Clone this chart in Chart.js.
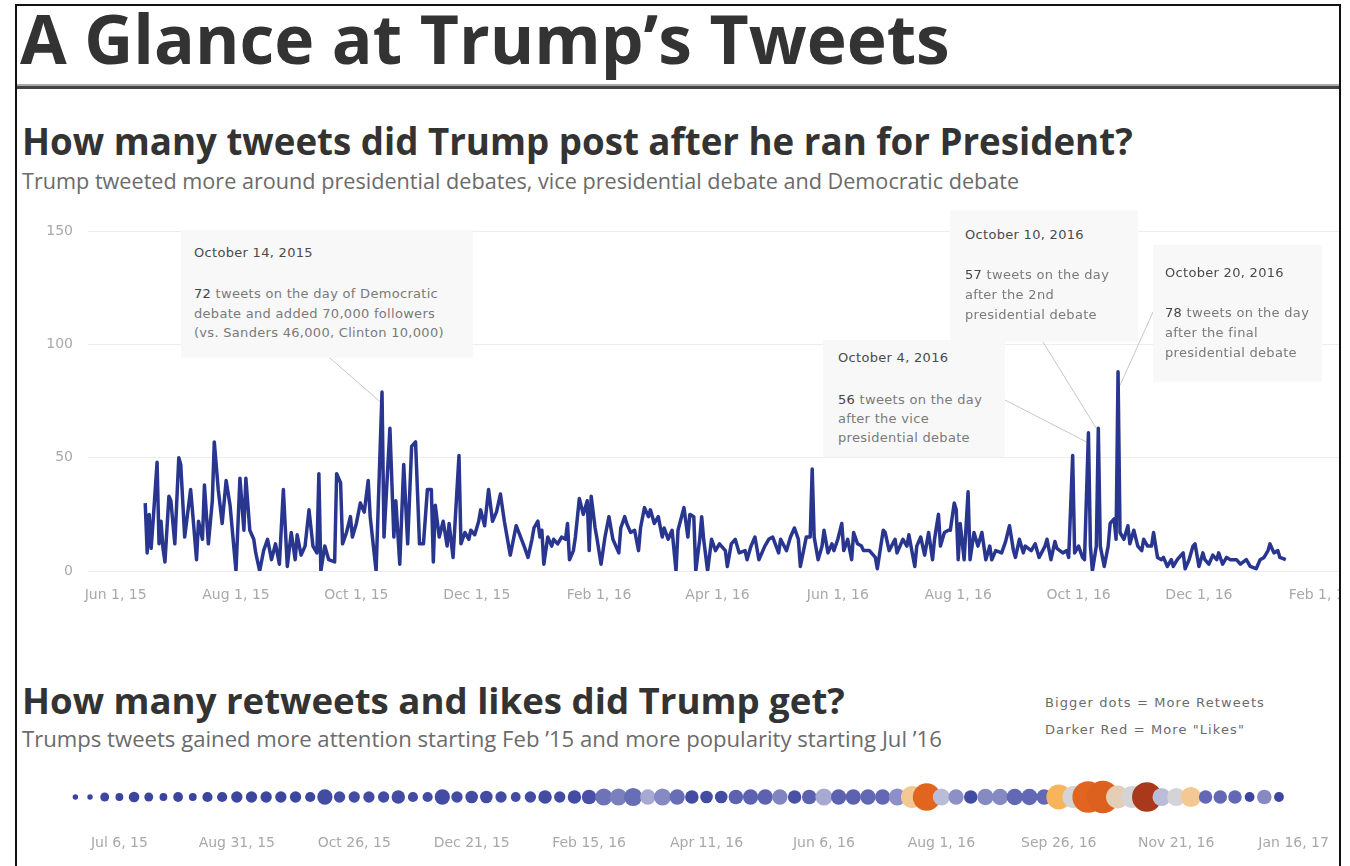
<!DOCTYPE html>
<html>
<head>
<meta charset="utf-8">
<title>A Glance at Trump's Tweets</title>
<script src="https://cdn.jsdelivr.net/npm/chart.js@4.4.1/dist/chart.umd.min.js"></script>
<style>
  body { margin: 0; background: #fff; }
  #page { position: absolute; left: 0; top: 0; width: 1350px; height: 866px; overflow: hidden; background: #fff; }
  #clip { position: absolute; left: 0; top: 0; width: 1350px; height: 866px; clip-path: inset(6px 11px 0 17px); }
  #frame { position: absolute; left: 15px; top: 4px; width: 1322px; height: 900px; border: 2px solid #111; pointer-events: none; }
  .t { position: absolute; white-space: nowrap; }
  .open { font-family: "Open Sans", sans-serif; }
  .deja { font-family: "DejaVu Sans", sans-serif; letter-spacing: 0.3px; }
  .head { font-weight: 700; color: #333; }
  .desc { color: #6b6b6b; }
  .note { position: absolute; background: #f8f8f8; }
  .nt { color: #4a4a4a; }
  .nb { color: #7a7a7a; }
  .nb b { color: #444; font-weight: normal; }
  .wrap { position: absolute; }
</style>
</head>
<body>
<div id="page">
  <div id="clip">
    <div style="position:absolute;left:0;top:84px;width:1350px;height:2px;background:#aaa"></div>
    <div style="position:absolute;left:0;top:86px;width:1350px;height:3px;background:#444"></div>

    <div class="wrap" id="lineWrap" style="left:17px;top:200px;width:1353px;height:415px"><canvas id="lineCanvas"></canvas></div>

    <div class="note" style="left:181px;top:230px;width:292px;height:128px"></div>
    <div class="note" style="left:823px;top:340px;width:182px;height:117px"></div>
    <div class="note" style="left:950px;top:210px;width:188px;height:132px"></div>
    <div class="note" style="left:1153px;top:245px;width:169px;height:137px"></div>

    <div class="t deja nt" data-font="deja" data-x="194" data-cap="248" data-fs="13">October 14, 2015</div>
    <div class="t deja nb" data-font="deja" data-x="194" data-cap="289" data-fs="13"><b>72</b> tweets on the day of Democratic</div>
    <div class="t deja nb" data-font="deja" data-x="194" data-cap="308.5" data-fs="13">debate and added 70,000 followers</div>
    <div class="t deja nb" data-font="deja" data-x="194" data-cap="328" data-fs="13">(vs. Sanders 46,000, Clinton 10,000)</div>

    <div class="t deja nt" data-font="deja" data-x="838" data-cap="353" data-fs="13">October 4, 2016</div>
    <div class="t deja nb" data-font="deja" data-x="838" data-cap="395" data-fs="13"><b>56</b> tweets on the day</div>
    <div class="t deja nb" data-font="deja" data-x="838" data-cap="414" data-fs="13">after the vice</div>
    <div class="t deja nb" data-font="deja" data-x="838" data-cap="433" data-fs="13">presidential debate</div>

    <div class="t deja nt" data-font="deja" data-x="965" data-cap="230" data-fs="13">October 10, 2016</div>
    <div class="t deja nb" data-font="deja" data-x="965" data-cap="270" data-fs="13"><b>57</b> tweets on the day</div>
    <div class="t deja nb" data-font="deja" data-x="965" data-cap="290" data-fs="13">after the 2nd</div>
    <div class="t deja nb" data-font="deja" data-x="965" data-cap="310" data-fs="13">presidential debate</div>

    <div class="t deja nt" data-font="deja" data-x="1165" data-cap="268" data-fs="13">October 20, 2016</div>
    <div class="t deja nb" data-font="deja" data-x="1165" data-cap="308" data-fs="13"><b>78</b> tweets on the day</div>
    <div class="t deja nb" data-font="deja" data-x="1165" data-cap="328" data-fs="13">after the final</div>
    <div class="t deja nb" data-font="deja" data-x="1165" data-cap="348" data-fs="13">presidential debate</div>

    <div class="wrap" id="dotWrap" style="left:17px;top:770px;width:1328px;height:96px"><canvas id="dotCanvas"></canvas></div>

    <div class="t open head" data-x="20" data-base="65" data-fit="930">A Glance at Trump’s Tweets</div>
    <div class="t open head" data-x="22" data-base="156" data-fit="1111">How many tweets did Trump post after he ran for President?</div>
    <div class="t open desc" data-x="22" data-base="189" data-fit="998">Trump tweeted more around presidential debates, vice presidential debate and Democratic debate</div>
    <div class="t open head" data-x="22" data-base="715" data-fit="823">How many retweets and likes did Trump get?</div>
    <div class="t open desc" data-x="22" data-base="747" data-fit="920">Trumps tweets gained more attention starting Feb ’15 and more popularity starting Jul ’16</div>
    <div class="t deja desc" data-font="deja" data-x="1045" data-cap="698" data-fs="13" data-w="220">Bigger dots = More Retweets</div>
    <div class="t deja desc" data-font="deja" data-x="1045" data-cap="725" data-fs="13" data-w="200">Darker Red = More "Likes"</div>
  </div>
  <div id="frame"></div>
</div>

<script>
// daily tweet counts, day = days since Jun 1, 2015
const tweetDays = [
  15,16,17,18,19,21,22,23,24,25,27,28,30,32,33,35,38,39,41,42,44,45,47,49,50,52,54,56,58,61,
  63,65,66,68,70,71,73,75,77,79,81,83,85,87,89,91,92,94,96,98,100,102,103,104,106,108,111,112,114,115,
  117,119,120,122,124,126,128,129,132,135,136,139,141,142,144,146,148,150,152,154,156,158,160,161,162,164,166,168,169,171,
  174,175,177,179,180,182,184,185,187,189,191,193,195,197,200,
  203,207,209,211,212,214,215,216,217,219,221,222,224,226,228,229,230,232,233,235,237,239,240,241,243,244,246,248,250,252,
  255,256,258,259,261,263,265,266,268,270,271,273,275,277,278,280,282,284,285,288,290,291,293,294,296,297,298,300,302,304,
  306,309,310,312,314,316,319,320,322,324,326,329,331,333,336,337,340,342,344,346,347,350,352,353,354,356,358,359,361,363,
  364,366,368,369,371,373,374,376,378,379,382,385,386,389,390,392,395,
  396,399,401,402,405,406,408,410,412,414,415,417,418,420,422,423,425,426,427,428,430,432,433,435,437,439,441,443,444,446,
  449,451,453,455,456,458,460,461,464,466,468,471,472,474,476,477,480,482,483,485,486,488,490,491,493,494,495,497,498,499,
  501,503,504,506,507,508,509,511,513,514,516,518,520,521,523,525,526,528,530,531,533,535,536,538,541,542,544,546,547,549,
  551,552,554,556,558,559,561,563,565,568,570,573,575,578,580,582,584,585,587,589,590,593
];
const tweetCounts = [
  30,8,25,10,22,48,12,22,10,4,33,31,12,50,47,15,36,26,5,22,14,38,12,31,57,36,21,40,29,0,
  41,18,41,18,14,8,0,9,14,5,12,3,36,2,17,5,16,7,11,27,11,8,43,0,11,5,4,43,39,12,
  17,24,15,21,30,26,40,24,0,79,15,63,15,31,3,47,12,55,57,12,12,36,36,4,29,15,22,11,21,6,
  51,12,17,14,18,16,22,27,20,36,22,26,34,22,7,
  20,11,6,14,19,22,15,18,3,15,11,14,12,15,14,21,5,9,15,32,25,31,9,33,19,14,3,15,24,14,
  8,19,24,21,17,18,9,19,28,24,27,21,24,15,19,14,18,0,18,28,15,25,24,0,14,24,14,0,14,9,
  12,9,2,12,14,8,9,5,11,15,5,11,14,15,8,14,9,15,19,14,2,15,15,45,15,5,11,18,8,12,
  9,14,21,9,14,5,17,12,11,9,9,6,1,18,17,9,14,
  8,14,11,16,2,11,15,7,17,5,14,25,11,17,18,18,30,27,5,21,5,35,5,17,11,17,5,11,5,9,
  8,13,20,9,6,14,8,11,9,12,6,11,14,5,13,10,8,9,6,51,8,11,6,5,61,11,0,11,63,11,
  2,11,21,23,14,88,17,14,20,12,18,11,9,14,11,11,17,6,5,6,2,5,2,5,8,1,5,11,12,2,
  8,5,3,7,5,8,3,6,5,5,3,5,2,1,5,6,9,12,8,9,6,5
];
const lineTickDays = [0, 61, 122, 183, 245, 305, 366, 427, 488, 549, 611];
const lineTickLabels = ['Jun 1, 15', 'Aug 1, 15', 'Oct 1, 15', 'Dec 1, 15', 'Feb 1, 16', 'Apr 1, 16',
                        'Jun 1, 16', 'Aug 1, 16', 'Oct 1, 16', 'Dec 1, 16', 'Feb 1, 17'];

// annotated days and where their callout lines leave the boxes (page px)
const noteLinks = [
  { day: 135, value: 74, fromX: 323, fromY: 352 },
  { day: 492, value: 57, fromX: 1005, fromY: 400 },
  { day: 497, value: 63, fromX: 1043, fromY: 342 },
  { day: 508.5, value: 81, fromX: 1153, fromY: 312 }
];

// weekly averages, weeks starting Mon Jun 15, 2015 (thousands per tweet)
const weeklyRetweets = [
  0.1,0.1,0.6,0.4,1.0,0.6,0.4,0.8,0.4,0.9,0.9,1.2,1.2,1.2,1.2,1.2,0.9,2.6,1.2,1.2,
  1.2,1.2,1.9,0.9,0.9,2.6,1.2,1.6,1.6,1.2,0.8,1.2,1.9,1.2,1.9,2.3,3.5,3.5,4.0,2.6,
  3.5,2.6,1.9,1.6,1.6,2.3,2.6,2.6,2.6,1.9,2.3,3.5,2.6,2.6,2.6,2.6,3.5,6.3,10.6,3.5,
  2.6,1.9,3.1,3.1,3.1,3.1,2.6,8.3,6.3,14.1,15.0,6.9,6.3,12.3,4.0,4.0,5.1,1.9,1.9,1.9,
  0.8,2.3,0.8
];
const weeklyLikes = [
  5,5,6,5,6,6,5,6,5,6,6,6,6,6,6,6,6,7,7,7,
  7,7,7,7,7,7,7,7,7,7,7,7,7,7,7,8,14,16,13,21,
  18,13,7,7,7,11,11,11,17,8,11,21,11,11,12,12,19,30,41,23,
  19,7,18,18,12,12,12,34,26,41,42,28,26,50,23,26,30,12,12,12,
  6,18,6
];
const dotTickWeeks = [3, 11, 19, 27, 35, 43, 51, 59, 67, 75, 83];
const dotTickLabels = ['Jul 6, 15', 'Aug 31, 15', 'Oct 26, 15', 'Dec 21, 15', 'Feb 15, 16', 'Apr 11, 16',
                       'Jun 6, 16', 'Aug 1, 16', 'Sep 26, 16', 'Nov 21, 16', 'Jan 16, 17'];

// likes -> colour, blue (few) through grey to dark orange-red (many)
const likeStops = [[0, '#2e3a96'], [0.12, '#3c469f'], [0.24, '#6268b3'], [0.38, '#8c90c6'], [0.44, '#b3b5d8'],
                   [0.52, '#d4d4d6'], [0.6, '#f4c892'], [0.68, '#f7b45a'], [0.82, '#e2651f'], [1, '#a9391a']];
const maxLikes = 50;

function hexRgb(h) {
  return [parseInt(h.substr(1, 2), 16), parseInt(h.substr(3, 2), 16), parseInt(h.substr(5, 2), 16)];
}
function likeColor(v) {
  const t = Math.min(1, Math.max(0, v / maxLikes));
  for (let i = 1; i < likeStops.length; i++) {
    if (t <= likeStops[i][0]) {
      const a = likeStops[i - 1], b = likeStops[i];
      const f = (t - a[0]) / (b[0] - a[0]);
      const ca = hexRgb(a[1]), cb = hexRgb(b[1]);
      return 'rgb(' + ca.map((c, k) => Math.round(c + (cb[k] - c) * f)).join(',') + ')';
    }
  }
  return likeStops[likeStops.length - 1][1];
}
// dot radius grows with the square root of retweets
function retweetRadius(rt) {
  return 1.5 + 3.8 * Math.sqrt(rt);
}

function placeTexts() {
  for (const el of document.querySelectorAll('.t')) {
    el.style.left = el.dataset.x + 'px';
    if (el.dataset.fit) {
      // headings: size the font so the line spans the measured width, sit it on the baseline
      let fs = 30;
      el.style.fontSize = fs + 'px';
      const w = el.getBoundingClientRect().width;
      fs = fs * parseFloat(el.dataset.fit) / w;
      el.style.fontSize = fs + 'px';
      el.style.lineHeight = fs + 'px';
      el.style.top = (parseFloat(el.dataset.base) - 0.888 * fs) + 'px';
      continue;
    }
    const fs = parseFloat(el.dataset.fs);
    const off = el.dataset.font === 'deja' ? 0.117 : 0.174;
    el.style.fontSize = fs + 'px';
    el.style.lineHeight = fs + 'px';
    el.style.top = (parseFloat(el.dataset.cap) - off * fs) + 'px';
    if (el.dataset.w) {
      el.style.letterSpacing = '0px';
      const w = el.getBoundingClientRect().width;
      el.style.letterSpacing = ((parseFloat(el.dataset.w) - w) / el.textContent.length) + 'px';
    }
  }
}

const tickFont = { family: 'DejaVu Sans', size: 14 };

const connectorPlugin = {
  id: 'connectors',
  beforeDatasetsDraw(chart) {
    const ctx = chart.ctx;
    const wrap = document.getElementById('lineWrap');
    const ox = wrap.offsetLeft, oy = wrap.offsetTop;
    ctx.save();
    ctx.strokeStyle = '#c6c6c6';
    ctx.lineWidth = 1;
    for (const n of noteLinks) {
      ctx.beginPath();
      ctx.moveTo(n.fromX - ox, n.fromY - oy);
      ctx.lineTo(chart.scales.x.getPixelForValue(n.day), chart.scales.y.getPixelForValue(n.value));
      ctx.stroke();
    }
    ctx.restore();
  }
};

function drawLine() {
  const ctx = document.getElementById('lineCanvas').getContext('2d');
  new Chart(ctx, {
    type: 'line',
    data: {
      datasets: [{
        data: tweetDays.map((d, i) => ({ x: d, y: tweetCounts[i] })),
        borderColor: '#29368f',
        borderWidth: 3.5,
        pointRadius: 0,
        tension: 0,
        borderJoinStyle: 'round'
      }]
    },
    options: {
      animation: false,
      responsive: true,
      maintainAspectRatio: false,
      layout: { padding: { top: 9, right: 12, left: 0, bottom: 0 } },
      plugins: { legend: { display: false }, tooltip: { enabled: false } },
      scales: {
        x: {
          type: 'linear', min: -14, max: 626,
          grid: { display: false, drawTicks: false },
          border: { display: false },
          afterBuildTicks: ax => { ax.ticks = lineTickDays.map(v => ({ value: v })); },
          afterFit: ax => { ax.height = 44; },
          ticks: {
            autoSkip: false, maxRotation: 0, padding: 16,
            color: '#a8a8a8', font: tickFont,
            callback: v => lineTickLabels[lineTickDays.indexOf(v)]
          }
        },
        y: {
          min: 0, max: 153.5,
          grid: { color: '#ececec', drawTicks: false },
          border: { display: false },
          afterFit: ax => { ax.width = 71; },
          ticks: { stepSize: 50, includeBounds: false, padding: 15, color: '#a8a8a8', font: tickFont }
        }
      }
    },
    plugins: [connectorPlugin]
  });
}

function drawDots() {
  const ctx = document.getElementById('dotCanvas').getContext('2d');
  new Chart(ctx, {
    type: 'bubble',
    data: {
      datasets: [{
        data: weeklyRetweets.map((rt, w) => ({ x: w, y: 0, r: retweetRadius(rt) })),
        backgroundColor: weeklyLikes.map(likeColor),
        borderWidth: 0,
        hoverRadius: 0
      }]
    },
    options: {
      animation: false,
      responsive: true,
      maintainAspectRatio: false,
      layout: { autoPadding: false, padding: { top: 5, right: 2, left: 29, bottom: 0 } },
      plugins: { legend: { display: false }, tooltip: { enabled: false } },
      scales: {
        x: {
          type: 'linear', min: -2, max: 86,
          grid: { display: false, drawTicks: false },
          border: { display: false },
          afterBuildTicks: ax => { ax.ticks = dotTickWeeks.map(v => ({ value: v })); },
          afterFit: ax => { ax.height = 47; },
          ticks: {
            autoSkip: false, maxRotation: 0, padding: 16,
            color: '#a8a8a8', font: tickFont,
            callback: v => dotTickLabels[dotTickWeeks.indexOf(v)]
          }
        },
        y: { display: false, min: -1, max: 1 }
      }
    }
  });
}

window.addEventListener('load', function () {
  placeTexts();
  drawLine();
  drawDots();
});
</script>
</body>
</html>
